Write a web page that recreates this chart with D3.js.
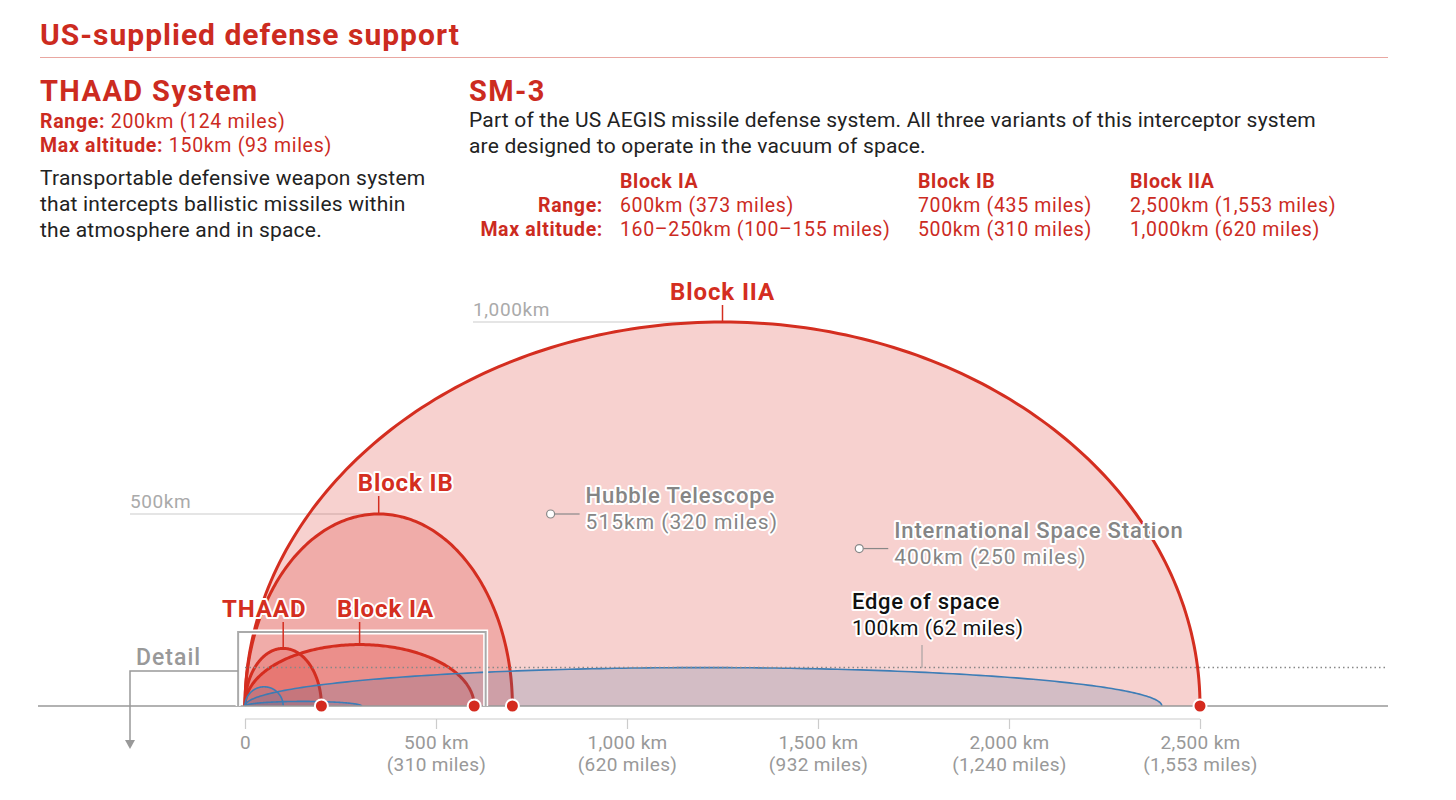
<!DOCTYPE html>
<html>
<head>
<meta charset="utf-8">
<script src="https://cdn.jsdelivr.net/npm/d3@7"></script>
<style>
  body { margin: 0; background: #fff; }
  svg text { font-family: Roboto, "Noto Sans", sans-serif; }
  .halo { paint-order: stroke; stroke: #fff; stroke-linejoin: round; }
</style>
</head>
<body>
<div id="chart"></div>
<script>
// interceptor envelopes
const systems = ["Block IIA", "Block IB", "Block IA", "THAAD"];
const rangesKm = [2500, 700, 600, 200];
const altitudesKm = [1000, 500, 160, 150];

// sample ballistic trajectories (blue)
const trajRangesKm = [2400, 305, 100];
const trajAltitudesKm = [100, 12, 50];

// axis ticks
const tickKm = [0, 500, 1000, 1500, 2000, 2500];
const tickMiles = ["", "(310 miles)", "(620 miles)", "(932 miles)", "(1,240 miles)", "(1,553 miles)"];

// objects in orbit
const orbitNames = ["Hubble Telescope", "International Space Station"];
const orbitText = ["515km (320 miles)", "400km (250 miles)"];
const orbitXKm = [800, 1608];
const orbitPlotAltKm = [500, 410];

const edgeOfSpaceKm = 100;

// SM-3 table
const blockNames = ["Block IA", "Block IB", "Block IIA"];
const blockRanges = ["600km (373 miles)", "700km (435 miles)", "2,500km (1,553 miles)"];
const blockAltitudes = ["160–250km (100–155 miles)", "500km (310 miles)", "1,000km (620 miles)"];

const RED = "#cc2b1f";
const ARC = "#d42e20";
const GREY = "#999";

const W = 1456, H = 800;
const svg = d3.select("#chart").append("svg")
    .attr("width", W)
    .attr("height", H);

// ---------- header ----------
svg.append("text").attr("x", 40).attr("y", 45)
    .attr("fill", RED).attr("font-size", 30).attr("font-weight", 700).attr("letter-spacing", 1)
    .text("US-supplied defense support");
svg.append("line").attr("x1", 40).attr("x2", 1388).attr("y1", 57.5).attr("y2", 57.5)
    .attr("stroke", "#e9a7a1").attr("stroke-width", 1);

svg.append("text").attr("x", 40).attr("y", 101)
    .attr("fill", RED).attr("font-size", 29).attr("font-weight", 700).attr("letter-spacing", 1.4)
    .text("THAAD System");

function labelValue(x, y, label, value) {
    let t = svg.append("text").attr("x", x).attr("y", y)
        .attr("fill", RED).attr("font-size", 19.5).attr("letter-spacing", 0.7)
    t.append("tspan").attr("font-weight", 700).text(label + " ")
    t.append("tspan").text(value)
}
labelValue(40, 128, "Range:", "200km (124 miles)")
labelValue(40, 152, "Max altitude:", "150km (93 miles)")

const thaadDesc = ["Transportable defensive weapon system", "that intercepts ballistic missiles within", "the atmosphere and in space."];
svg.append("g").selectAll("text").data(thaadDesc).enter().append("text")
    .attr("x", 40).attr("y", (d, i) => 185 + i * 26)
    .attr("fill", "#222").attr("font-size", 21).attr("letter-spacing", 0.22)
    .text(d => d);

svg.append("text").attr("x", 469).attr("y", 101)
    .attr("fill", RED).attr("font-size", 29).attr("font-weight", 700).attr("letter-spacing", 1.4)
    .text("SM-3");
const smDesc = ["Part of the US AEGIS missile defense system. All three variants of this interceptor system", "are designed to operate in the vacuum of space."];
svg.append("g").selectAll("text").data(smDesc).enter().append("text")
    .attr("x", 469).attr("y", (d, i) => 127 + i * 26)
    .attr("fill", "#222").attr("font-size", 21).attr("letter-spacing", 0.2)
    .text(d => d);

const colX = [620, 918, 1130];
const table = svg.append("g").attr("fill", RED).attr("font-size", 19.5).attr("letter-spacing", 0.65);
table.append("text").attr("x", 603).attr("y", 212).attr("text-anchor", "end").attr("font-weight", 700).text("Range:");
table.append("text").attr("x", 603).attr("y", 236).attr("text-anchor", "end").attr("font-weight", 700).text("Max altitude:");
blockNames.forEach((b, i) => {
    table.append("text").attr("x", colX[i]).attr("y", 188).attr("font-weight", 700).text(b);
    table.append("text").attr("x", colX[i]).attr("y", 212).text(blockRanges[i]);
    table.append("text").attr("x", colX[i]).attr("y", 236).text(blockAltitudes[i]);
});

// ---------- chart ----------
const x = d3.scaleLinear().domain([0, 2500]).range([245, 1200]);
const y = d3.scaleLinear().domain([0, 1000]).range([706, 322]);
const baseY = y(0);

// half-ellipse footprint from a range and a max altitude
function arcPath(range, alt) {
    let pts = d3.range(0, 181).map(a => {
        let t = a * Math.PI / 180;
        return [range / 2 - range / 2 * Math.cos(t), alt * Math.sin(t)];
    });
    return d3.line().x(d => x(d[0])).y(d => y(d[1]))(pts);
}

const chart = svg.append("g");

// reference altitude lines
const refs = [[1000, "1,000km", 473, 1250], [500, "500km", 130, 362]];
refs.forEach(r => {
    chart.append("line").attr("x1", r[2]).attr("x2", x(r[3]))
        .attr("y1", y(r[0])).attr("y2", y(r[0]))
        .attr("stroke", "#ccc").attr("stroke-width", 1.2);
    chart.append("text").attr("x", r[2]).attr("y", y(r[0]) - 6)
        .attr("fill", "#aaa").attr("font-size", 19).attr("letter-spacing", 0.6).text(r[1]);
});

// interceptor envelopes
systems.forEach((s, i) => {
    chart.append("path")
        .attr("d", arcPath(rangesKm[i], altitudesKm[i]))
        .attr("fill", "#d9261c").attr("fill-opacity", 0.21)
        .attr("stroke", ARC).attr("stroke-width", 3);
});

// blue trajectories
trajRangesKm.forEach((r, i) => {
    chart.append("path")
        .attr("d", arcPath(r, trajAltitudesKm[i]))
        .attr("fill", "rgb(70,110,160)").attr("fill-opacity", 0.2)
        .attr("stroke", "#3d7db6").attr("stroke-width", 1.6);
});

// edge of space
chart.append("line").attr("x1", x(0)).attr("x2", 1388)
    .attr("y1", y(edgeOfSpaceKm)).attr("y2", y(edgeOfSpaceKm))
    .attr("stroke", "#888").attr("stroke-width", 1.5).attr("stroke-dasharray", "1.5,3");
chart.append("line").attr("x1", 922).attr("x2", 922).attr("y1", 645).attr("y2", y(edgeOfSpaceKm))
    .attr("stroke", "#999");
chart.append("text").attr("class", "halo").attr("stroke-width", 4)
    .attr("x", 852).attr("y", 609).attr("fill", "#111").attr("font-size", 22).attr("font-weight", 500)
    .attr("letter-spacing", 0.7)
    .text("Edge of space");
chart.append("text").attr("class", "halo").attr("stroke-width", 4)
    .attr("x", 852).attr("y", 635).attr("fill", "#111").attr("font-size", 21).attr("letter-spacing", 0.5)
    .text("100km (62 miles)");

// baseline
chart.append("line").attr("x1", 38).attr("x2", 1388).attr("y1", baseY).attr("y2", baseY)
    .attr("stroke", GREY).attr("stroke-width", 1.5);

// detail box
const detail = [-18, 630, 193];
[["#fff", 5], ["#aaa", 2]].forEach(s => {
    chart.append("path")
        .attr("d", "M" + x(detail[0]) + "," + baseY + "V" + y(detail[2]) + "H" + x(detail[1]) + "V" + baseY)
        .attr("fill", "none").attr("stroke", s[0]).attr("stroke-width", s[1]);
});
chart.append("path")
    .attr("d", "M" + x(detail[0]) + ",671H130V742")
    .attr("fill", "none").attr("stroke", GREY).attr("stroke-width", 1.5);
chart.append("path").attr("d", "M125,740L130,749L135,740Z").attr("fill", GREY);
chart.append("text").attr("x", 136).attr("y", 665)
    .attr("fill", GREY).attr("font-size", 23).attr("font-weight", 500).attr("letter-spacing", 1).text("Detail");

// end dots
systems.forEach((s, i) => {
    chart.append("circle").attr("cx", x(rangesKm[i])).attr("cy", baseY).attr("r", 6.5)
        .attr("fill", "#d42a1e").attr("stroke", "#fff").attr("stroke-width", 2);
});

// envelope labels with leaders
const labelPos = { "Block IIA": [0, 300], "Block IB": [27, 491], "Block IA": [26, 617], "THAAD": [-19, 617] };
systems.forEach((s, i) => {
    let ax = x(rangesKm[i] / 2), ay = y(altitudesKm[i]);
    let lp = labelPos[s];
    chart.append("line").attr("x1", ax).attr("x2", ax).attr("y1", lp[1] + 5).attr("y2", ay)
        .attr("stroke", ARC).attr("stroke-width", 1.5);
    chart.append("text").attr("class", "halo").attr("stroke-width", 4)
        .attr("x", ax + lp[0]).attr("y", lp[1]).attr("text-anchor", "middle")
        .attr("fill", ARC).attr("font-size", 24).attr("font-weight", 700).attr("letter-spacing", 0.9)
        .text(s);
});

// orbit markers
orbitNames.forEach((n, i) => {
    let cx = x(orbitXKm[i]), cy = y(orbitPlotAltKm[i]);
    chart.append("line").attr("x1", cx + 4).attr("x2", cx + 29).attr("y1", cy).attr("y2", cy)
        .attr("stroke", "#888").attr("stroke-width", 1.2);
    chart.append("circle").attr("cx", cx).attr("cy", cy).attr("r", 4)
        .attr("fill", "#fff").attr("stroke", "#888").attr("stroke-width", 1.2);
    chart.append("text").attr("class", "halo").attr("stroke-width", 4)
        .attr("x", cx + 35).attr("y", cy - 11).attr("fill", "#858585").attr("font-size", 22).attr("font-weight", 500)
        .attr("letter-spacing", 0.85)
        .text(n);
    chart.append("text").attr("class", "halo").attr("stroke-width", 4)
        .attr("x", cx + 35).attr("y", cy + 15).attr("fill", "#858585").attr("font-size", 21).attr("letter-spacing", 1)
        .text(orbitText[i]);
});

// x axis
const axis = chart.append("g")
    .attr("transform", "translate(0," + 719 + ")")
    .call(d3.axisBottom(x).tickValues(tickKm).tickSize(10).tickSizeOuter(0)
        .tickFormat(d => d === 0 ? "0" : d3.format(",")(d) + " km"));
axis.selectAll("path,line").attr("stroke", "#ccc").attr("stroke-width", 1.2);
axis.selectAll("text").attr("fill", GREY).attr("font-size", 19).attr("letter-spacing", 0.35)
    .attr("y", 17).attr("dy", "0.71em")
    .each(function (d) {
        d3.select(this).append("tspan").attr("x", 0).attr("dy", "1.12em").text(tickMiles[tickKm.indexOf(d)]);
    });
axis.select(".domain").remove();
chart.append("line").attr("x1", x(0)).attr("x2", x(2500)).attr("y1", 719).attr("y2", 719)
    .attr("stroke", "#ccc").attr("stroke-width", 1.2);
</script>
</body>
</html>
